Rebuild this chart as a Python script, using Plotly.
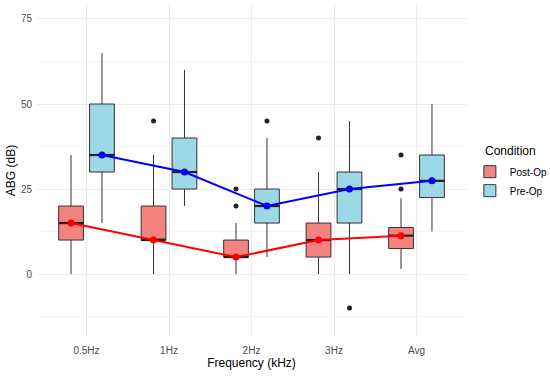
import plotly.graph_objects as go

categories = ["0.5Hz", "1Hz", "2Hz", "3Hz", "Avg"]

# Post-Op box statistics
post_q1 = [10, 10, 5, 5, 7.5]
post_median = [15, 10, 5, 10, 11.3]
post_q3 = [20, 20, 10, 15, 13.7]
post_low = [0, 0, 0, 0, 1.5]
post_high = [35, 35, 15, 30, 22.3]
post_out_cat = ["1Hz", "2Hz", "2Hz", "3Hz", "Avg", "Avg"]
post_out_val = [45, 20, 25, 40, 25, 35]

# Pre-Op box statistics
pre_q1 = [30, 25, 15, 15, 22.5]
pre_median = [35, 30, 20, 25, 27.4]
pre_q3 = [50, 40, 25, 30, 35]
pre_low = [15, 20, 5, 0, 12.5]
pre_high = [65, 60, 40, 45, 50]
pre_out_cat = ["2Hz", "3Hz"]
pre_out_val = [45, -10]

y_ticks = [0, 25, 50, 75]

dodge = 0.1875
box_w = 0.3
pos = {c: i + 1 for i, c in enumerate(categories)}

groups = [
    dict(name="Post-Op", off=-dodge, fill="#F4827F", line="#FF0000",
         q1=post_q1, med=post_median, q3=post_q3, lo=post_low, hi=post_high,
         oc=post_out_cat, ov=post_out_val),
    dict(name="Pre-Op", off=dodge, fill="#9DD8E6", line="#0000FF",
         q1=pre_q1, med=pre_median, q3=pre_q3, lo=pre_low, hi=pre_high,
         oc=pre_out_cat, ov=pre_out_val),
]

fig = go.Figure()
for g in groups:
    xs = [pos[c] + g["off"] for c in categories]
    fig.add_trace(go.Box(
        x=xs, q1=g["q1"], median=g["med"], q3=g["q3"],
        lowerfence=g["lo"], upperfence=g["hi"],
        width=box_w, whiskerwidth=0, boxpoints=False,
        fillcolor=g["fill"], line=dict(color="#333333", width=1),
        name=g["name"], legendgroup=g["name"], showlegend=True,
    ))
# thicker median bars (ggplot style)
for g in groups:
    mx, my = [], []
    for c, m in zip(categories, g["med"]):
        cx = pos[c] + g["off"]
        mx += [cx - box_w / 2, cx + box_w / 2, None]
        my += [m, m, None]
    fig.add_trace(go.Scatter(
        x=mx, y=my, mode="lines", line=dict(color="#222222", width=2.2),
        showlegend=False, hoverinfo="skip",
    ))
for g in groups:
    fig.add_trace(go.Scatter(
        x=[pos[c] + g["off"] for c in g["oc"]], y=g["ov"], mode="markers",
        marker=dict(color="#222222", size=5), showlegend=False,
        legendgroup=g["name"], hoverinfo="skip",
    ))
for g in groups:
    fig.add_trace(go.Scatter(
        x=[pos[c] + g["off"] for c in categories], y=g["med"],
        mode="lines+markers", line=dict(color=g["line"], width=2),
        marker=dict(color=g["line"], size=7), showlegend=False,
        legendgroup=g["name"],
    ))

font_family = "Liberation Sans, Arial, sans-serif"
fig.update_layout(
    width=550, height=376,
    margin=dict(l=37, r=84, t=4, b=39, autoexpand=False),
    paper_bgcolor="white", plot_bgcolor="white",
    boxmode="overlay",
    font=dict(family=font_family, color="#000000"),
    showlegend=True,
    legend=dict(
        font=dict(size=10, color="#000000"),
        x=1.009, y=0.54, xanchor="left", yanchor="top",
        traceorder="normal", tracegroupgap=0, itemwidth=30,
        bgcolor="rgba(0,0,0,0)",
    ),
    annotations=[dict(
        text="Condition", xref="paper", yref="paper", x=1.04, y=0.5586,
        xanchor="left", yanchor="middle", showarrow=False,
        font=dict(size=12, color="#000000"),
    )],
    xaxis=dict(
        range=[0.4, 5.6], automargin=False,
        tickmode="array", tickvals=[pos[c] for c in categories], ticktext=categories,
        tickfont=dict(size=10, color="#4D4D4D"),
        showgrid=True, gridcolor="#EBEBEB", gridwidth=1,
        zeroline=False, showline=False,
        ticks="outside", ticklen=4, tickcolor="rgba(0,0,0,0)",
        title=dict(text="Frequency (kHz)", font=dict(size=12, color="#000000"), standoff=3),
    ),
    yaxis=dict(
        range=[-18.5, 79.4], automargin=False,
        tickmode="array", tickvals=y_ticks,
        tickfont=dict(size=10, color="#4D4D4D"),
        showgrid=True, gridcolor="#EBEBEB", gridwidth=1,
        minor=dict(dtick=12.5, tick0=0, showgrid=True, gridcolor="#F5F5F5", gridwidth=1),
        zeroline=False, showline=False,
        ticks="outside", ticklen=2, tickcolor="rgba(0,0,0,0)",
        title=dict(text="ABG (dB)", font=dict(size=12, color="#000000"), standoff=2),
    ),
)

fig.write_html("out.html", config={"displayModeBar": False},
               post_script="document.body.style.margin='0';")
